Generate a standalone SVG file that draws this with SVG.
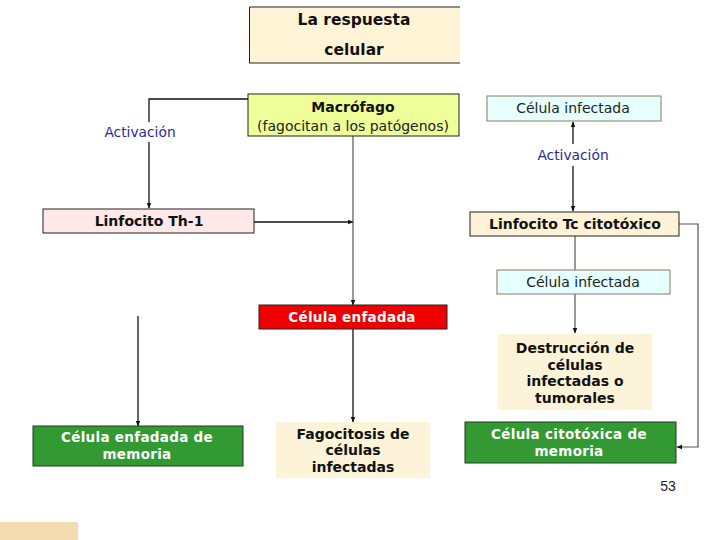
<svg xmlns="http://www.w3.org/2000/svg" width="720" height="540" viewBox="0 0 720 540">
<defs>
<marker id="arr" viewBox="0 0 10 10" refX="9" refY="5" markerWidth="6" markerHeight="6" orient="auto-start-reverse" markerUnits="userSpaceOnUse">
<path d="M0,1 L10,5 L0,9 Z" fill="#111"/>
</marker>
<style>
text{font-family:"DejaVu Sans","Liberation Sans",sans-serif;text-anchor:middle;dominant-baseline:central}
.b{font-weight:bold;fill:#111;font-size:14px}
.n{fill:#222;font-size:14px}
.w{font-weight:bold;fill:#fff;font-size:13.5px;letter-spacing:0.3px}
.blue{fill:#2a2a9a;font-size:13.8px}
.line{stroke:#111;stroke-width:1.3;fill:none}
.gline{stroke:#555;stroke-width:1.2;fill:none}
.bd{stroke:#222;stroke-width:1}
.cy{fill:#E6FFFF;stroke:#8B7B5A;stroke-width:1}
.cream{fill:#FDF3D8}
.green{fill:#339933;stroke:#1f3f1f;stroke-width:1}
</style>
</defs>
<rect width="720" height="540" fill="#fff"/>

<g id="connectors">
<polyline class="line" points="248,99 149,99 149,122"/>
<line class="line" x1="149" y1="142" x2="149" y2="208" marker-end="url(#arr)"/>
<line class="line" x1="254" y1="222" x2="353" y2="222" marker-end="url(#arr)"/>
<line class="gline" x1="353" y1="136" x2="353" y2="305" marker-end="url(#arr)"/>
<line class="line" x1="353" y1="329" x2="353" y2="422" marker-end="url(#arr)"/>
<line class="line" x1="138" y1="316" x2="138" y2="426" marker-end="url(#arr)"/>
<line class="line" x1="573" y1="144" x2="573" y2="122" marker-end="url(#arr)"/>
<line class="line" x1="573" y1="166" x2="573" y2="211" marker-end="url(#arr)"/>
<line class="gline" x1="575" y1="236" x2="575" y2="270"/>
<line class="gline" x1="575" y1="294" x2="575" y2="333" marker-end="url(#arr)"/>
<polyline class="gline" points="679,224 698,224 698,447 677,447" marker-end="url(#arr)"/>
<text class="blue" x="140" y="132">Activación</text>
<text class="blue" x="573" y="155">Activación</text>
</g>

<g id="titulo">
<rect x="249" y="7" width="211" height="56" fill="#FFF5D6"/>
<polyline points="460,7 249.5,7 249.5,63 460,63" fill="none" stroke="#222" stroke-width="1"/>
<text class="b" x="354" y="20" style="font-size:15.5px">La respuesta</text>
<text class="b" x="354" y="50" style="font-size:15.5px">celular</text>
</g>

<g id="macrofago">
<rect x="248" y="94" width="211" height="42" fill="#EEFF99" class="bd"/>
<text class="b" x="353" y="107">Macrófago</text>
<text class="n" x="353" y="126">(fagocitan a los patógenos)</text>
</g>

<g id="celula-infectada-1">
<rect x="487" y="96" width="174" height="25" class="cy"/>
<text class="n" x="573" y="108">Célula infectada</text>
</g>

<g id="linfocito-th1">
<rect x="43" y="209" width="211" height="24" fill="#FFE8E8" class="bd"/>
<text class="b" x="149" y="221">Linfocito Th-1</text>
</g>

<g id="linfocito-tc">
<rect x="470" y="212" width="209" height="24" fill="#FFF2D6" class="bd"/>
<text class="b" x="575" y="224">Linfocito Tc citotóxico</text>
</g>

<g id="celula-infectada-2">
<rect x="497" y="270" width="173" height="24" class="cy"/>
<text class="n" x="583" y="282">Célula infectada</text>
</g>

<g id="celula-enfadada">
<rect x="259" y="305" width="188" height="24" fill="#EE0000" class="bd"/>
<text class="w" x="352" y="317">Célula enfadada</text>
</g>

<g id="destruccion">
<rect x="498" y="334" width="154" height="76" class="cream"/>
<text class="b" x="575" y="348">Destrucción de</text>
<text class="b" x="575" y="365">células</text>
<text class="b" x="575" y="381">infectadas o</text>
<text class="b" x="575" y="398">tumorales</text>
</g>

<g id="fagocitosis">
<rect x="276" y="422" width="154" height="56" class="cream"/>
<text class="b" x="353" y="434">Fagocitosis de</text>
<text class="b" x="353" y="450">células</text>
<text class="b" x="353" y="467">infectadas</text>
</g>

<g id="celula-enfadada-memoria">
<rect x="33" y="426" width="210" height="40" class="green"/>
<text class="w" x="137" y="437">Célula enfadada de</text>
<text class="w" x="137" y="454">memoria</text>
</g>

<g id="celula-citotoxica-memoria">
<rect x="465" y="422" width="211" height="41" class="green"/>
<text class="w" x="569" y="434">Célula citotóxica de</text>
<text class="w" x="569" y="451">memoria</text>
</g>

<text x="668" y="486" font-size="14" fill="#222" style="font-family:'Liberation Sans',Arial,sans-serif">53</text>
<rect x="0" y="522" width="78" height="18" fill="#F3DDB0"/>
</svg>
